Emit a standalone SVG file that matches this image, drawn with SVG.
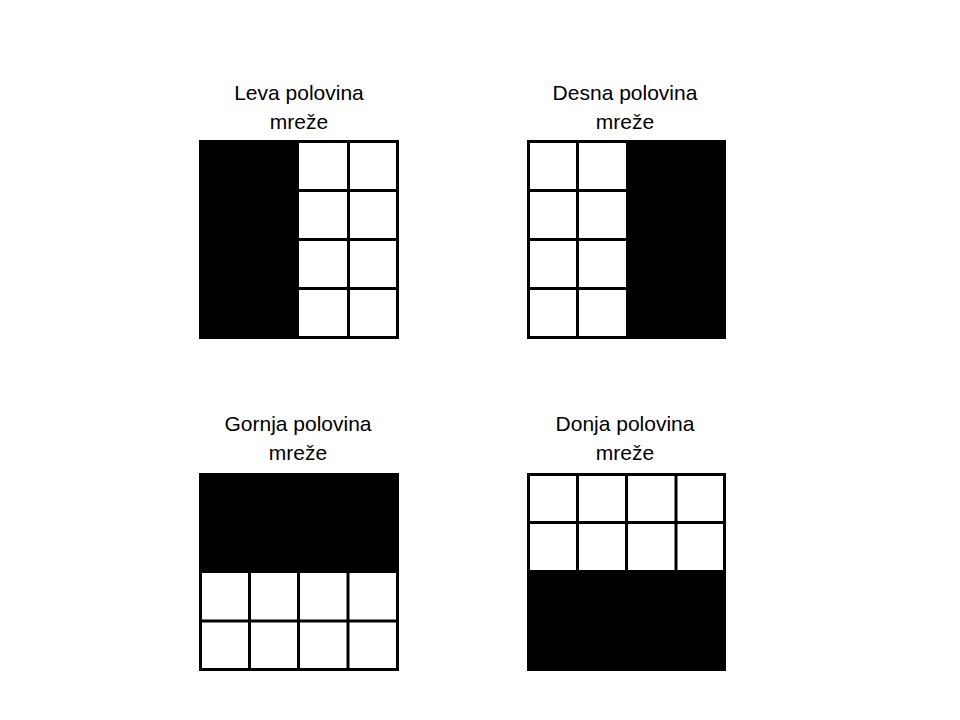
<svg xmlns="http://www.w3.org/2000/svg" width="960" height="720" viewBox="0 0 960 720">
<style>
.t{font-family:"Liberation Sans",Arial,sans-serif;font-size:21px;fill:#000;text-anchor:middle}
.g{fill:#fff;stroke:#000;stroke-width:3}
.l{stroke:#000;stroke-width:3;fill:none}
.b{fill:#000}
</style>
<rect width="960" height="720" fill="#fff"/>
<g id="leva">
<text class="t" x="299" y="100">Leva polovina</text>
<text class="t" x="299" y="129">mreže</text>
<rect class="g" x="200.5" y="141.5" width="197" height="196"/>
<rect class="b" x="199" y="140" width="100" height="199"/>
<path class="l" d="M348.5 141.5V337.5M299 190.5H397.5M299 239.5H397.5M299 288.5H397.5"/>
</g>
<g id="desna">
<text class="t" x="625" y="100">Desna polovina</text>
<text class="t" x="625" y="129">mreže</text>
<rect class="g" x="528.5" y="141.5" width="196" height="196"/>
<rect class="b" x="626" y="140" width="100" height="199"/>
<path class="l" d="M577.5 141.5V337.5M528.5 190.5H626M528.5 239.5H626M528.5 288.5H626"/>
</g>
<g id="gornja">
<text class="t" x="298" y="431">Gornja polovina</text>
<text class="t" x="298" y="460">mreže</text>
<rect class="g" x="200.5" y="474.5" width="197" height="195"/>
<rect class="b" x="199" y="473" width="200" height="100"/>
<path class="l" d="M249.5 573V669.5M298.5 573V669.5M348 573V669.5M200.5 621H397.5"/>
</g>
<g id="donja">
<text class="t" x="625" y="431">Donja polovina</text>
<text class="t" x="625" y="460">mreže</text>
<rect class="g" x="528.5" y="474.5" width="196" height="195"/>
<rect class="b" x="527" y="570" width="199" height="101"/>
<path class="l" d="M577.5 474.5V570M626.5 474.5V570M676 474.5V570M528.5 522.5H724.5"/>
</g>
</svg>
